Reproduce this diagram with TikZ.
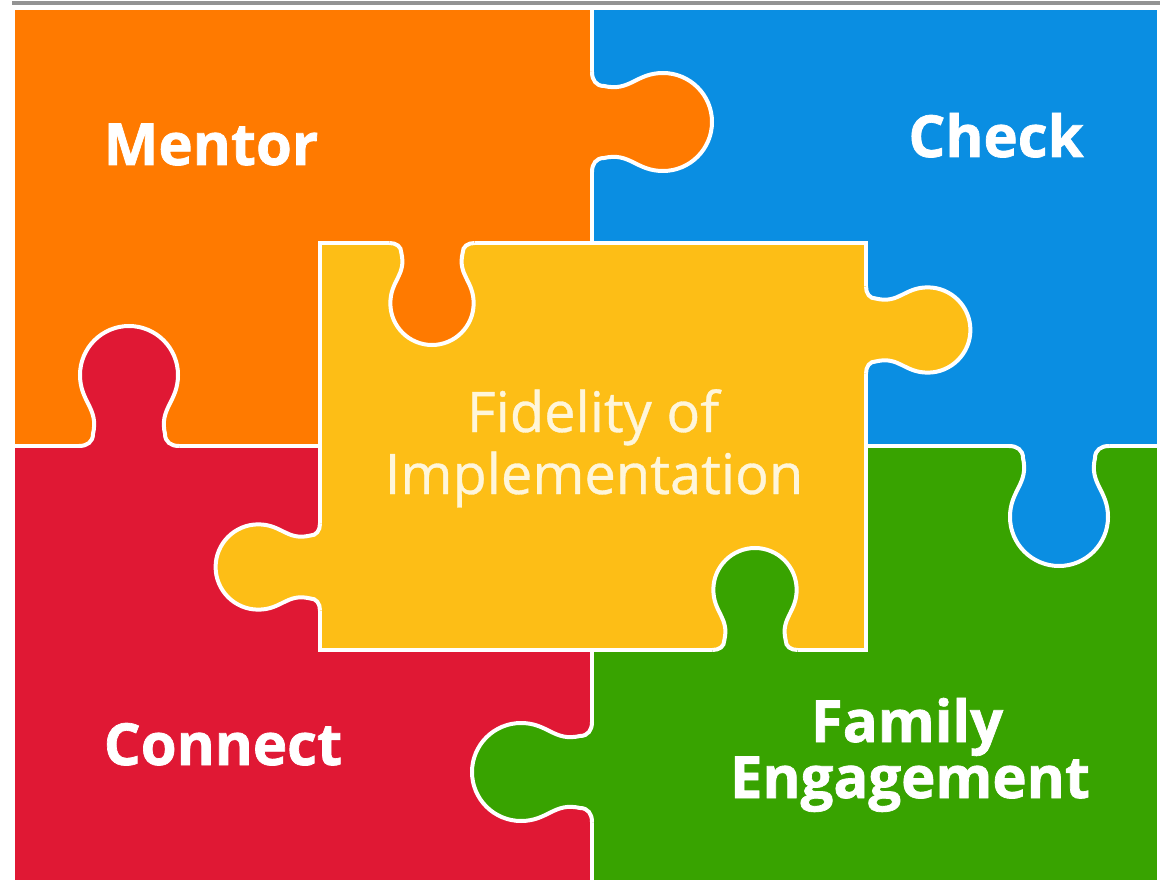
\documentclass[tikz,border=0pt]{standalone}
\usepackage{fontspec}
\setmainfont{Open Sans}
\usetikzlibrary{positioning}

\definecolor{mentorc}{HTML}{FF7A00}
\definecolor{checkc}{HTML}{0A8EE2}
\definecolor{connectc}{HTML}{E01834}
\definecolor{familyc}{HTML}{38A300}
\definecolor{fidelityc}{HTML}{FDBE16}
\definecolor{creamc}{HTML}{FFF6DA}

% outline of one knob, from base to base
\newcommand{\knobline}{
    .. controls (0,-42) and (4,-36) .. (12,-36)
    .. controls (38,-30) and (44,-49) .. (71,-49)
    .. controls (98,-49) and (120,-27) .. (120,0)
    .. controls (120,27) and (98,49) .. (71,49)
    .. controls (44,49) and (38,30) .. (12,36)
    .. controls (4,36) and (0,42) .. (0,50)}
% #1 colour, #2 base point, #3 direction, #4 size
\newcommand{\knob}[4]{
    \begin{scope}[shift={#2}, rotate=#3, scale=#4]
        \fill[#1] (0,-50) \knobline -- (-6,50) -- (-6,-50) -- cycle;
        \draw[seam] (0,-50) \knobline;
    \end{scope}}

\begin{document}
\begin{tikzpicture}[
    x=1pt, y=-1pt,
    seam/.style={draw=white, line width=4pt},
    piecetext/.style={text=white, anchor=base,
        font=\bfseries\addfontfeature{FakeBold=1.2}\fontsize{58}{58}\selectfont},
    centretext/.style={text=creamc, anchor=base,
        font=\addfontfeature{FakeBold=0.6}\fontsize{56}{56}\selectfont}
]
	\useasboundingbox[fill=white] (0,0) rectangle (1160,885);
	\draw[gray!85, line width=4pt] (12,3) -- (1160,3);

	\fill[mentorc] (15,10) rectangle (592,446);
	\fill[checkc] (592,10) rectangle (1157,446);
	\fill[connectc] (15,446) rectangle (592,880);
	\fill[familyc] (592,446) rectangle (1157,880);
	\draw[seam] (592,10) -- (592,880);
	\draw[seam] (15,446) -- (1157,446);

	\knob{mentorc}{(592,122)}{0}{1}
	\knob{connectc}{(129,446)}{90}{1}
	\knob{checkc}{(1059,446)}{270}{1}
	\knob{familyc}{(592,772)}{180}{1}

	\draw[seam, fill=fidelityc] (320,243) rectangle (866,650);
	\knob{fidelityc}{(866,330)}{0}{0.87}
	\knob{fidelityc}{(320,567)}{180}{0.87}
	\knob{mentorc}{(432,243)}{270}{0.85}
	\knob{familyc}{(755,650)}{90}{0.85}

	\node[piecetext] (mentor) at (211,165) {Mentor};
	\node[piecetext] (check) at (996,157) {Check};
	\node[piecetext] (connect) at (223,765) {Connect};
	\node[piecetext] (family) at (907,742) {Family};
	\node[piecetext] (engagement) at (910,798) {Engagement};
	\node[centretext] (fidelity) at (593,432) {Fidelity of};
	\node[centretext] (implementation) at (594,494) {Implementation};
\end{tikzpicture}
\end{document}
